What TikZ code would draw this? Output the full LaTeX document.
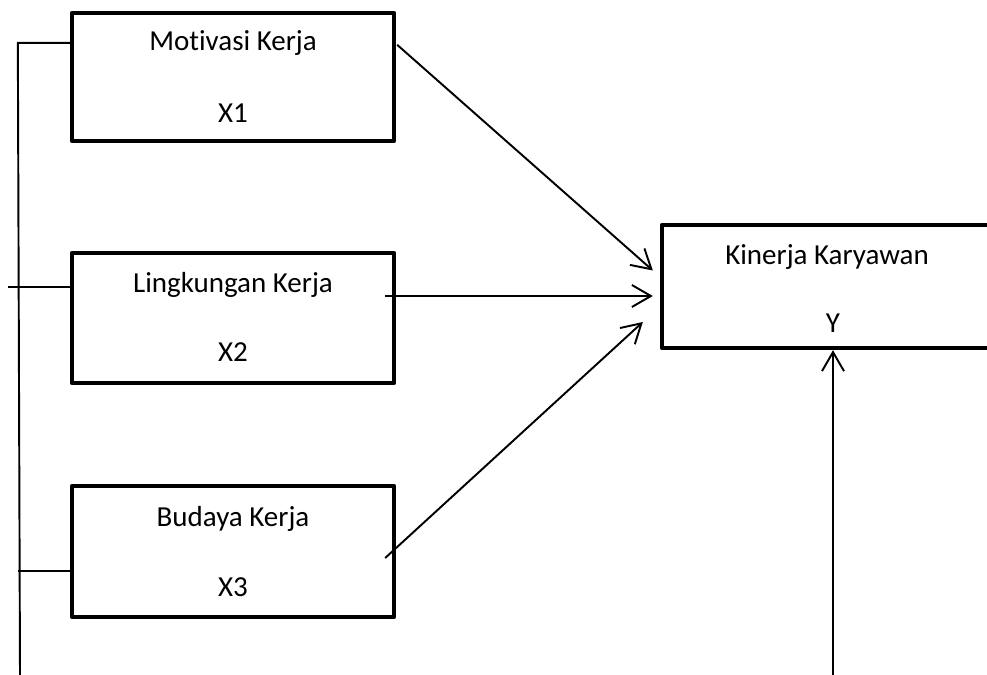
\documentclass[tikz,border=0pt]{standalone}
\usepackage{fontspec}
\setmainfont{Carlito}[Ligatures=NoCommon]
\usetikzlibrary{arrows.meta, positioning, calc}

\begin{document}
\begin{tikzpicture}[x=0.02cm, y=-0.02cm, line join=round,
    kotak/.style={draw, line width=2.5pt, inner sep=0pt,
        minimum width=6.44cm, minimum height=2.56cm},
    teks/.style={inner sep=0pt, font=\fontsize{16.5}{19}\selectfont},
    garis/.style={line width=1.1pt},
    panah/.style={garis, -{Straight Barb[length=0.38cm, width=0.44cm, line width=1.1pt]}}]

        \useasboundingbox (0,0) rectangle (987,675);

        % =========================
        % KOTAK VARIABEL
        % =========================
        \node[kotak] (m1) at (233,77) {};
        \node[kotak, minimum height=2.6cm] (m2) at (233,318) {};
        \node[kotak, minimum height=2.62cm] (m3) at (233,551.5) {};
        \node[kotak, minimum width=6.84cm, minimum height=2.46cm] (k) at (833,286.5) {};

        % =========================
        % TEKS
        % =========================
        \node[teks] (m1a) at (233,43)  {Motivasi Kerja};
        \node[teks] (m1b) at (233,113) {X1};
        \node[teks] (m2a) at (233,285) {Lingkungan Kerja};
        \node[teks] (m2b) at (233,352) {X2};
        \node[teks] (m3a) at (233,519) {Budaya Kerja};
        \node[teks] (m3b) at (233,587) {X3};
        \node[teks] (ka)  at (827,257) {Kinerja Karyawan};
        \node[teks] (kb)  at (833,323) {Y};

        % =========================
        % TITIK BANTU
        % =========================
        \coordinate (p1) at ($(m1.north west)+(0,32)$);
        \coordinate (p2) at ($(m2.north west)+(0,36)$);
        \coordinate (p3) at ($(m3.north west)+(0,87)$);
        \coordinate (kiri) at ($(p1)+(-52,0)$);
        \coordinate (bawah) at (20,675);
        \coordinate (kiri2) at ($(p2)+(-62,0)$);
        \coordinate (kiri3) at ($(p3)+(-52,0)$);

        \coordinate (a1) at ($(m1.north east)+(1,34)$);
        \coordinate (a2) at ($(m2.east)+(-11,-22)$);
        \coordinate (a3) at ($(m3.east)+(-11,6.5)$);
        \coordinate (t1) at ($(k.west)+(-7,-16)$);
        \coordinate (t2) at ($(k.west)+(-7,9.5)$);
        \coordinate (t3) at ($(k.west)+(-17,35.5)$);
        \coordinate (y0) at (k.south |- bawah);

        % =========================
        % GARIS KIRI
        % =========================
        \draw[garis] (p1) -- (kiri) -- (bawah);
        \draw[garis] (kiri2) -- (p2);
        \draw[garis] (kiri3) -- (p3);

        % =========================
        % PANAH
        % =========================
        \draw[panah] (a1) -- (t1);
        \draw[panah] (a2) -- (t2);
        \draw[panah] (a3) -- (t3);
        \draw[panah] (y0) -- (k.south);

\end{tikzpicture}
\end{document}
